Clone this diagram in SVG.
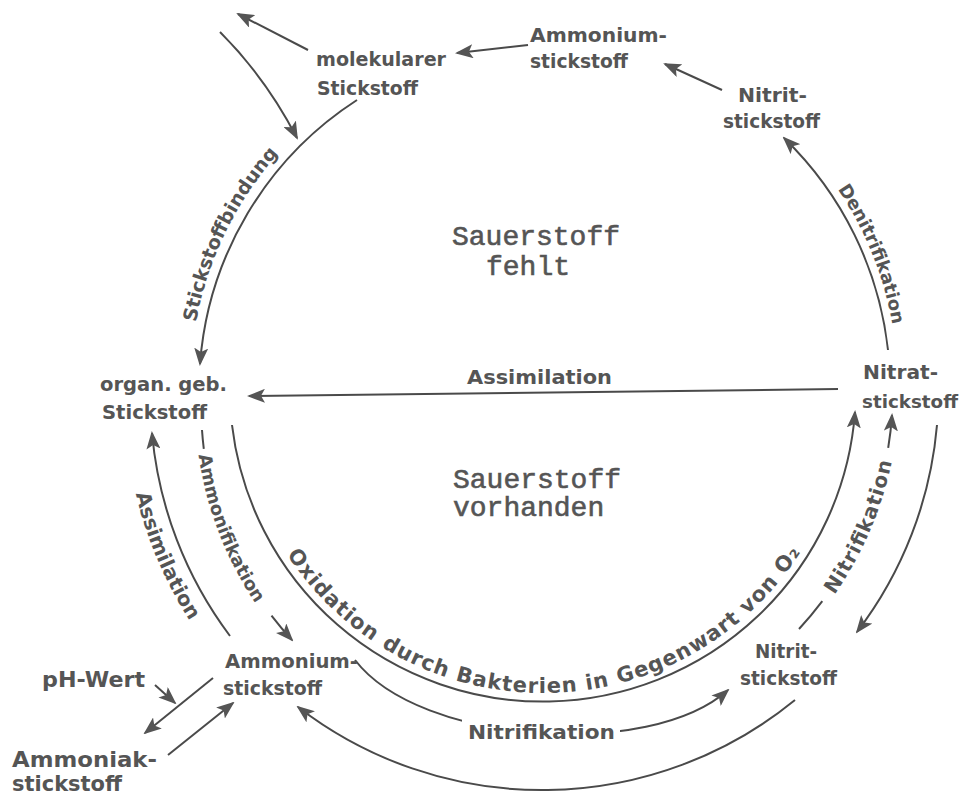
<svg xmlns="http://www.w3.org/2000/svg" width="962" height="797" viewBox="0 0 962 797">
<style>
.lbl{font-family:"DejaVu Sans","Liberation Sans",sans-serif;font-weight:bold;font-size:20px;fill:#555}
.ox{font-size:21px;letter-spacing:1.02px}
.mono{font-family:"Liberation Mono","DejaVu Sans Mono",monospace;font-size:28px;fill:#555;stroke:#555;stroke-width:0.6px}
.ln{fill:none;stroke:#4a4a4a;stroke-width:2;marker-end:url(#ah)}
.seg{fill:none;stroke:#4a4a4a;stroke-width:2}
</style>
<defs>
<marker id="ah" viewBox="0 0 18 14" refX="16" refY="7" markerWidth="18" markerHeight="14" markerUnits="userSpaceOnUse" orient="auto">
<path d="M0,0 L18,7 L0,14 L4,7 z" fill="#555"/>
</marker>
<path id="tp-sb" d="M191.9,350.1 A353,353 0 0 1 297.8,133.1"/>
<path id="tp-den" d="M830.2,178.3 A355,355 0 0 1 894.5,337.6"/>
<path id="tp-ox" d="M278,540 A306,306 0 0 0 810.6,535.4"/>
<path id="tp-as" d="M128.1,453.6 A421,421 0 0 0 213.2,654.2"/>
<path id="tp-amm" d="M196.4,436 A356,356 0 0 0 266.7,619.2"/>
<path id="tp-nitr" d="M815.5,619.5 A357,357 0 0 0 896.6,431"/>
</defs>
<rect width="962" height="797" fill="#fff"/>

<g id="connectors">
<path class="ln" d="M308,50 L238,14"/>
<path class="ln" d="M220,32 Q266,78 297,138"/>
<path class="ln" d="M357,100 A345,345 0 0 0 200,364"/>
<path class="ln" d="M528,45 L457,53"/>
<path class="ln" d="M722,90 L665,64"/>
<path class="ln" d="M888,350 A348,348 0 0 0 784,138"/>
<path class="ln" d="M838,389 L249,396"/>
<path class="ln" d="M232,425 A313,313 0 0 0 855,412"/>
<path class="seg" d="M202,430 A350,350 0 0 0 203.8,448.9"/>
<path class="ln" d="M271.5,615.6 A350,350 0 0 0 292,640"/>
<path class="ln" d="M230,636 A397,397 0 0 1 152,433"/>
<path class="ln" d="M937,425 A397,397 0 0 1 857,632"/>
<path class="seg" d="M799,629 A351,351 0 0 0 822.3,601.2"/>
<path class="ln" d="M888.2,447.9 A351,351 0 0 0 892,415"/>
<path class="ln" d="M795,700 A400,400 0 0 1 298,707"/>
<path class="ln" d="M355,660 C420,745 650,760 728,690"/>
<path class="ln" d="M155,685 L175,703"/>
<path class="ln" d="M213,678 L145,733"/>
<path class="ln" d="M168,755 L233,703"/>

<text class="lbl" style="font-size:19px"><textPath href="#tp-sb" startOffset="50%" text-anchor="middle">Stickstoffbindung</textPath></text>
<text class="lbl" style="font-size:18px"><textPath href="#tp-den" startOffset="50%" text-anchor="middle">Denitrifikation</textPath></text>
<text class="lbl ox"><textPath href="#tp-ox" startOffset="17">Oxidation</textPath></text>
<text class="lbl ox"><textPath href="#tp-ox" startOffset="150">durch Bakterien in</textPath></text>
<text class="lbl ox"><textPath href="#tp-ox" startOffset="397">Gegenwart</textPath></text>
<text class="lbl ox"><textPath href="#tp-ox" startOffset="544">von O₂</textPath></text>
<text class="lbl"><textPath href="#tp-as" startOffset="50%" text-anchor="middle">Assimilation</textPath></text>
<text class="lbl" style="font-size:18px"><textPath href="#tp-amm" startOffset="50%" text-anchor="middle">Ammonifikation</textPath></text>
<text class="lbl"><textPath href="#tp-nitr" startOffset="50%" text-anchor="middle" textLength="146">Nitrifikation</textPath></text>
<text class="lbl" x="467" y="384" textLength="145" lengthAdjust="spacingAndGlyphs">Assimilation</text>
<rect x="462" y="718" width="158" height="24" fill="#fff"/>
<text class="lbl" style="font-size:20px" x="468" y="739" textLength="147" lengthAdjust="spacingAndGlyphs">Nitrifikation</text>
</g>

<g id="n-molekularer">
<text class="lbl" x="316" y="66" textLength="130" lengthAdjust="spacingAndGlyphs">molekularer</text>
<text class="lbl" x="317" y="95" textLength="101" lengthAdjust="spacingAndGlyphs">Stickstoff</text>
</g>
<g id="n-ammonium-top">
<text class="lbl" x="530" y="42" textLength="137" lengthAdjust="spacingAndGlyphs">Ammonium-</text>
<text class="lbl" x="530" y="68" textLength="98" lengthAdjust="spacingAndGlyphs">stickstoff</text>
</g>
<g id="n-nitrit-top">
<text class="lbl" x="738" y="102" textLength="69" lengthAdjust="spacingAndGlyphs">Nitrit-</text>
<text class="lbl" x="723" y="128" textLength="97" lengthAdjust="spacingAndGlyphs">stickstoff</text>
</g>
<g id="n-organ">
<text class="lbl" x="100" y="391" textLength="127" lengthAdjust="spacingAndGlyphs">organ. geb.</text>
<text class="lbl" x="102" y="419" textLength="105" lengthAdjust="spacingAndGlyphs">Stickstoff</text>
</g>
<g id="n-nitrat">
<text class="lbl" x="863" y="379" textLength="75" lengthAdjust="spacingAndGlyphs">Nitrat-</text>
<text class="lbl" style="font-size:18px" x="862" y="408" textLength="96" lengthAdjust="spacingAndGlyphs">stickstoff</text>
</g>
<g id="n-ammonium-bottom">
<text class="lbl" x="225" y="668" textLength="133" lengthAdjust="spacingAndGlyphs">Ammonium-</text>
<text class="lbl" x="223" y="695" textLength="99" lengthAdjust="spacingAndGlyphs">stickstoff</text>
</g>
<g id="n-nitrit-bottom">
<text class="lbl" x="755" y="658" textLength="62" lengthAdjust="spacingAndGlyphs">Nitrit-</text>
<text class="lbl" x="740" y="685" textLength="97" lengthAdjust="spacingAndGlyphs">stickstoff</text>
</g>
<g id="n-ph">
<text class="lbl" style="font-size:21px" x="42" y="687" textLength="103" lengthAdjust="spacingAndGlyphs">pH-Wert</text>
</g>
<g id="n-ammoniak">
<text class="lbl" style="font-size:22px" x="12" y="767" textLength="145" lengthAdjust="spacingAndGlyphs">Ammoniak-</text>
<text class="lbl" style="font-size:22px" x="12" y="791" textLength="110" lengthAdjust="spacingAndGlyphs">stickstoff</text>
</g>
<g id="zone-fehlt">
<text class="mono" x="452" y="245">Sauerstoff</text>
<text class="mono" x="486" y="275">fehlt</text>
</g>
<g id="zone-vorhanden">
<text class="mono" x="453" y="488">Sauerstoff</text>
<text class="mono" x="453" y="516">vorhanden</text>
</g>
</svg>
